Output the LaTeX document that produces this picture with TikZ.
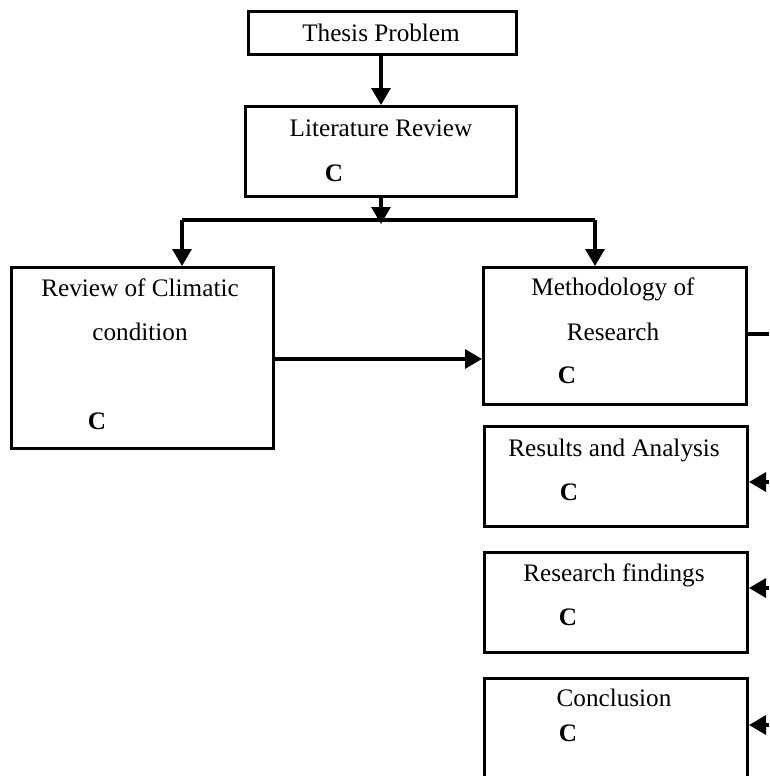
\documentclass[tikz,border=0pt]{standalone}
\usepackage{fontspec}
\setmainfont{Liberation Serif}
\usetikzlibrary{arrows.meta}
\begin{document}
\begin{tikzpicture}[x=1pt,y=-1pt,
  box/.style={draw=black,line width=3pt,rectangle,inner sep=0pt,anchor=north west},
  lbl/.style={inner sep=0pt,text height=17pt,text depth=0pt,font=\fontsize{25.2}{30}\selectfont},
  cc/.style={inner sep=0pt,text height=17pt,text depth=0pt,font=\fontsize{25.2}{30}\selectfont\bfseries},
  arr/.style={line width=3.2pt,-{Triangle[length=17pt,width=19pt]}},
  ln/.style={line width=3.2pt}]
\useasboundingbox (0,0) rectangle (769,776);
\clip (0,0) rectangle (769,776);
% boxes
\node[box,minimum width=268pt,minimum height=43pt] (thesis) at (247,10) {};
\node[box,minimum width=271pt,minimum height=90pt] (lit) at (244,105) {};
\node[box,minimum width=262pt,minimum height=181pt] (clim) at (10,266) {};
\node[box,minimum width=263pt,minimum height=137pt] (meth) at (482,266) {};
\node[box,minimum width=263pt,minimum height=100pt] (res) at (483,425) {};
\node[box,minimum width=263pt,minimum height=100pt] (find) at (483,551) {};
\node[box,minimum width=263pt,minimum height=120pt] (conc) at (483,677) {};
% texts
\node[lbl] (t1) at (381,33) {Thesis Problem};
\node[lbl] (t2) at (381,128) {Literature Review};
\node[cc] (c2) at (334,173) {C};
\node[lbl] (t3) at (140,288) {Review of Climatic};
\node[lbl] (t4) at (140,332) {condition};
\node[cc] (c3) at (97,421) {C};
\node[lbl] (t5) at (613,287) {Methodology of};
\node[lbl] (t6) at (613,332) {Research};
\node[cc] (c5) at (567,375) {C};
\node[lbl] (t7) at (614,448) {Results and Analysis};
\node[cc] (c7) at (569,492) {C};
\node[lbl] (t8) at (614,573) {Research findings};
\node[cc] (c8) at (568,617) {C};
\node[lbl] (t9) at (614,698) {Conclusion};
\node[cc] (c9) at (568,733) {C};
% connectors
\coordinate (split) at (381,224);
\coordinate (hl) at (182,220);
\coordinate (hr) at (595,220);
\coordinate (edge1) at (769,334);
\coordinate (edge2) at (769,482);
\coordinate (edge3) at (769,588);
\coordinate (edge4) at (769,725);
\draw[arr] (thesis.south -| t1) -- (lit.north -| t1);
\draw[arr] (lit.south -| t1) -- (split);
\draw[ln] (hl) -- (hr);
\draw[arr] (hl) -- (hl |- clim.north);
\draw[arr] (hr) -- (hr |- meth.north);
\draw[arr] (clim.east |- 0,359) -- (meth.west |- 0,359);
\draw[ln] (meth.east |- edge1) -- (edge1);
\draw[arr] (edge2) -- (res.east |- edge2);
\draw[arr] (edge3) -- (find.east |- edge3);
\draw[arr] (edge4) -- (conc.east |- edge4);
\end{tikzpicture}
\end{document}
